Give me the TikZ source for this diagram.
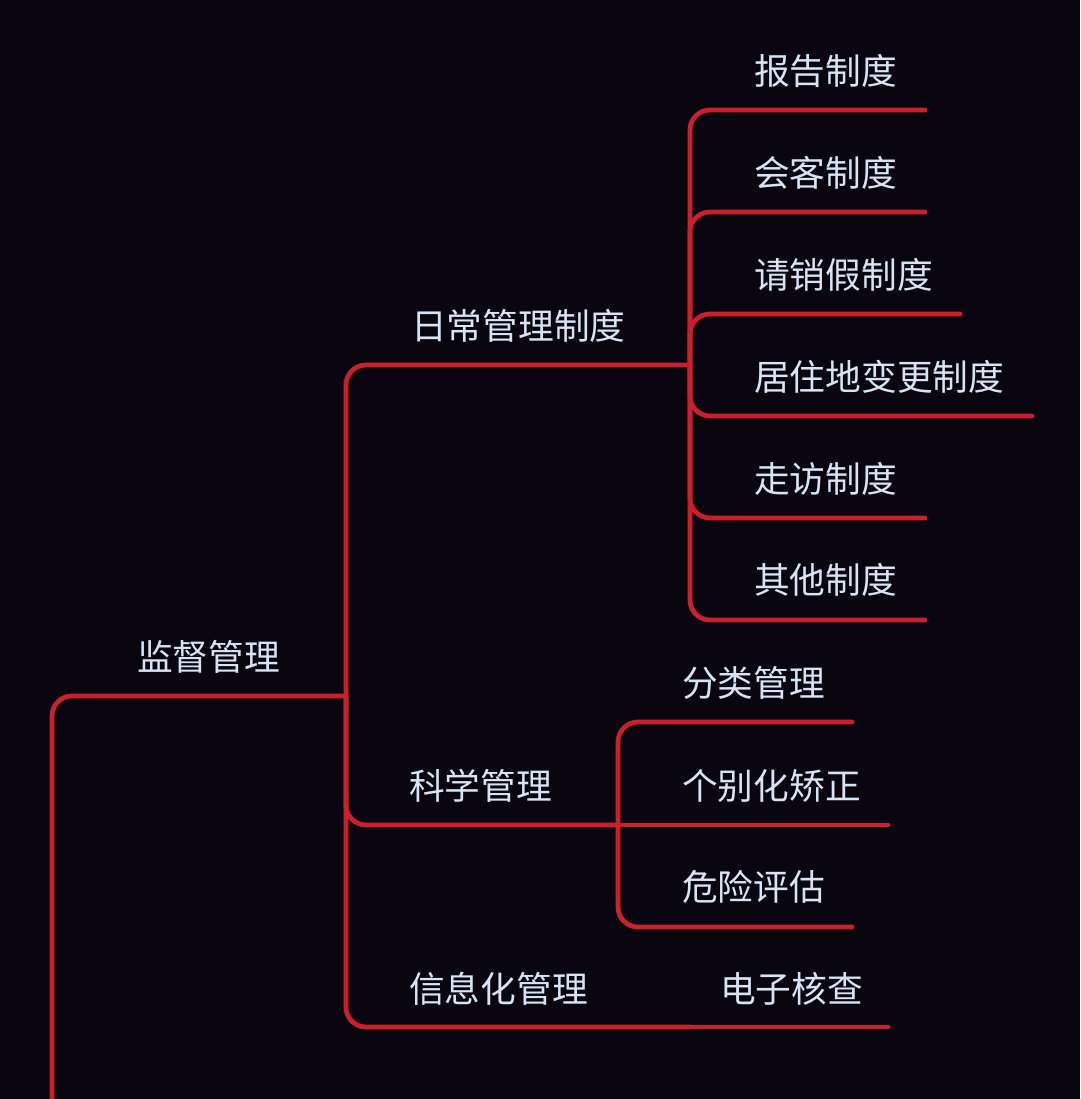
\documentclass[tikz,border=0pt]{standalone}
\usepackage{fontspec}
\setmainfont{Noto Sans CJK SC}
\definecolor{bg}{HTML}{0A0610}
\definecolor{lnred}{HTML}{C8212C}
\definecolor{txt}{HTML}{D8E4F4}
\begin{document}
\begin{tikzpicture}[x=1pt,y=-1pt,
  branch/.style={draw=lnred,line width=4.8pt,rounded corners=20pt,line cap=round},
  lbl/.style={anchor=west,inner sep=0pt,text=txt,font=\fontsize{35.7}{42}\selectfont}]
\fill[bg] (0,0) rectangle (1080,1099);
\useasboundingbox (0,0) rectangle (1080,1099);
% junctions
\coordinate (r0) at (52,1110);
\coordinate (j1) at (346,696);
\coordinate (j2) at (690,365);
\coordinate (j3) at (618,825);
\coordinate (j4) at (690,1027);
% line ends
\coordinate (e1) at (925,110);
\coordinate (e2) at (925,212);
\coordinate (e3) at (960,314);
\coordinate (e4) at (1032,416);
\coordinate (e5) at (925,518);
\coordinate (e6) at (925,620);
\coordinate (f1) at (852,722);
\coordinate (f2) at (888,825);
\coordinate (f3) at (852,927);
\coordinate (g1) at (888,1027);
% labels
\node[lbl] (t0) at (137,657) {监督管理};
\node[lbl] (t1) at (411,326) {日常管理制度};
\node[lbl] (t2) at (409,786) {科学管理};
\node[lbl] (t3) at (409,989) {信息化管理};
\node[lbl] (a1) at (754,71) {报告制度};
\node[lbl] (a2) at (754,173) {会客制度};
\node[lbl] (a3) at (754,275) {请销假制度};
\node[lbl] (a4) at (754,377) {居住地变更制度};
\node[lbl] (a5) at (754,479) {走访制度};
\node[lbl] (a6) at (754,580) {其他制度};
\node[lbl] (b1) at (682,683) {分类管理};
\node[lbl] (b2) at (682,786) {个别化矫正};
\node[lbl] (b3) at (682,887) {危险评估};
\node[lbl] (c1) at (720,989) {电子核查};
% connectors
\draw[branch] (r0) |- (j1);
\draw[branch] (j1) |- (j2);
\draw[branch] (j1) |- (j3);
\draw[branch] (j1) |- (j4);
\draw[branch] (j2) |- (e1);
\draw[branch] (j2) |- (e2);
\draw[branch] (j2) |- (e3);
\draw[branch] (j2) |- (e4);
\draw[branch] (j2) |- (e5);
\draw[branch] (j2) |- (e6);
\draw[branch] (j3) |- (f1);
\draw[branch] (j3) -- (f2);
\draw[branch] (j3) |- (f3);
\draw[branch] (j4) -- (g1);
\end{tikzpicture}
\end{document}
